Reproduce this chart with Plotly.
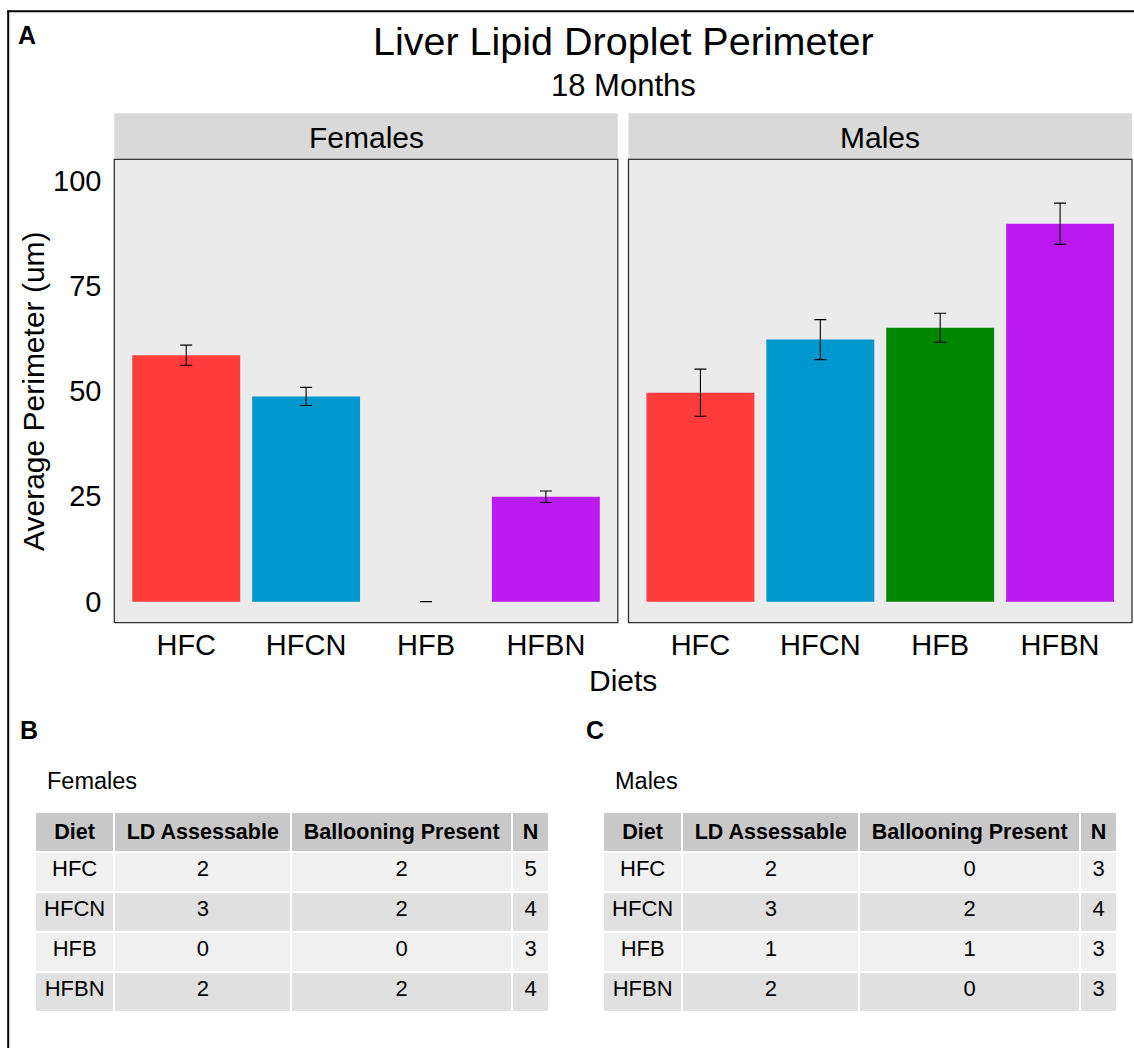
import plotly.graph_objects as go

# ---------------- data ----------------
diets = ["HFC", "HFCN", "HFB", "HFBN"]
diet_colors = ["#FF3B3B", "#0098CF", "#008700", "#BB1AF1"]

female_mean = [58.5, 48.7, 0.0, 24.9]
female_se = [2.4, 2.15, 0.0, 1.35]
male_mean = [49.6, 62.2, 65.0, 89.7]
male_se = [5.6, 4.75, 3.45, 4.9]

y_ticks = [0, 25, 50, 75, 100]

table_header = ["Diet", "LD Assessable", "Ballooning Present", "N"]
female_ld = [2, 3, 0, 2]
female_balloon = [2, 2, 0, 2]
female_n = [5, 4, 3, 4]
male_ld = [2, 3, 1, 2]
male_balloon = [0, 2, 1, 0]
male_n = [3, 4, 3, 3]

# ---------------- geometry helpers ----------------
W, H = 1134, 1048
FONT = "Liberation Sans, Arial, sans-serif"


def px(x):
    return x / W


def py(y):
    return 1 - y / H


panel_f = (114.3, 617.8)
panel_m = (628.5, 1132.0)
panel_top, panel_bot = 159.3, 622.7
strip_top = 113.3

fig = go.Figure()

for sex, mean, se, xa, ya in [("Females", female_mean, female_se, "x", "y"),
                              ("Males", male_mean, male_se, "x2", "y2")]:
    fig.add_trace(go.Bar(
        x=diets, y=mean, width=0.9,
        marker=dict(color=diet_colors, line=dict(width=0)),
        error_y=dict(type="data", array=se, visible=True, color="black",
                     thickness=1.1, width=6),
        xaxis=xa, yaxis=ya, showlegend=False, name=sex,
    ))

axis_common = dict(type="category", range=[-0.6, 3.6], showgrid=False,
                   zeroline=False, showline=False, ticks="",
                   ticklabelstandoff=2,
                   tickfont=dict(size=29, color="black", family=FONT))
yaxis_common = dict(range=[-5, 105], tickvals=y_ticks, showgrid=False,
                    zeroline=False, showline=False, ticks="outside", ticklen=6,
                    tickcolor="rgba(0,0,0,0)",
                    tickfont=dict(size=29, color="black", family=FONT))

fig.update_layout(
    width=W, height=H,
    margin=dict(l=0, r=0, t=0, b=0),
    paper_bgcolor="white", plot_bgcolor="#EBEBEB",
    font=dict(family=FONT, color="black"),
    xaxis=dict(domain=[px(panel_f[0]), px(panel_f[1])], anchor="y", **axis_common),
    xaxis2=dict(domain=[px(panel_m[0]), px(panel_m[1])], anchor="y2", **axis_common),
    yaxis=dict(domain=[py(panel_bot), py(panel_top)], anchor="x", **yaxis_common),
    yaxis2=dict(domain=[py(panel_bot), py(panel_top)], anchor="x2", matches="y",
                showticklabels=False, **{k: v for k, v in yaxis_common.items() if k not in ("tickfont",)}),
)

shapes = []
# figure border (left and top)
shapes.append(dict(type="line", xref="paper", yref="paper", x0=px(8.2), x1=px(8.2),
                   y0=0, y1=py(10.5), line=dict(color="black", width=2)))
shapes.append(dict(type="line", xref="paper", yref="paper", x0=px(7.2), x1=1,
                   y0=py(11.2), y1=py(11.2), line=dict(color="black", width=2)))
for (x0, x1) in [panel_f, panel_m]:
    shapes.append(dict(type="rect", xref="paper", yref="paper", x0=px(x0), x1=px(x1),
                       y0=py(panel_top), y1=py(strip_top), fillcolor="#D9D9D9",
                       line=dict(width=0), layer="below"))
    shapes.append(dict(type="rect", xref="paper", yref="paper", x0=px(x0), x1=px(x1),
                       y0=py(panel_bot), y1=py(panel_top), fillcolor="rgba(0,0,0,0)",
                       line=dict(color="#333333", width=1.3), layer="above"))
fig.update_layout(shapes=shapes)

ann = []


def add_text(text, x, y, size, xanchor="center", yanchor="middle", bold=False, angle=0):
    ann.append(dict(text=f"<b>{text}</b>" if bold else text, x=px(x), y=py(y),
                    xref="paper", yref="paper", showarrow=False,
                    xanchor=xanchor, yanchor=yanchor, textangle=angle,
                    font=dict(size=size, color="black", family=FONT)))


add_text("Liver Lipid Droplet Perimeter", 623.3, 41, 39.5)
add_text("18 Months", 623.3, 86, 31)
add_text("Females", (panel_f[0] + panel_f[1]) / 2, 137, 30)
add_text("Males", (panel_m[0] + panel_m[1]) / 2, 137, 30)
add_text("Diets", 623.3, 680, 30)
add_text("Average Perimeter (um)", 33, 391, 30, angle=-90)
add_text("A", 27, 35, 25, bold=True)
add_text("B", 29, 730, 25, bold=True)
add_text("C", 595, 730, 25, bold=True)
add_text("Females", 45, 781, 23.5, xanchor="left")
add_text("Males", 613, 781, 23.5, xanchor="left")
fig.update_layout(annotations=ann)

row_fill = ["#F0F0F0", "#E0E0E0", "#F0F0F0", "#E0E0E0"]
col_widths = [79.3, 177, 220.7, 37]

for (x0, x1), ld, bal, n in [((35, 549), female_ld, female_balloon, female_n),
                             ((603, 1117), male_ld, male_balloon, male_n)]:
    fig.add_trace(go.Table(
        domain=dict(x=[px(x0), px(x1)], y=[0.0, py(811.7)]),
        columnwidth=col_widths,
        header=dict(values=[f"<b>{h}</b>" for h in table_header],
                    fill_color="#C8C8C8", align="center", height=38.5,
                    line=dict(color="white", width=2),
                    font=dict(size=21.5, color="black", family=FONT)),
        cells=dict(values=[diets, ld, bal, n],
                   fill_color=[row_fill] * 4, align="center", height=40,
                   line=dict(color="white", width=2),
                   font=dict(size=22, color="black", family=FONT)),
    ))

fig.write_html("out.html")
